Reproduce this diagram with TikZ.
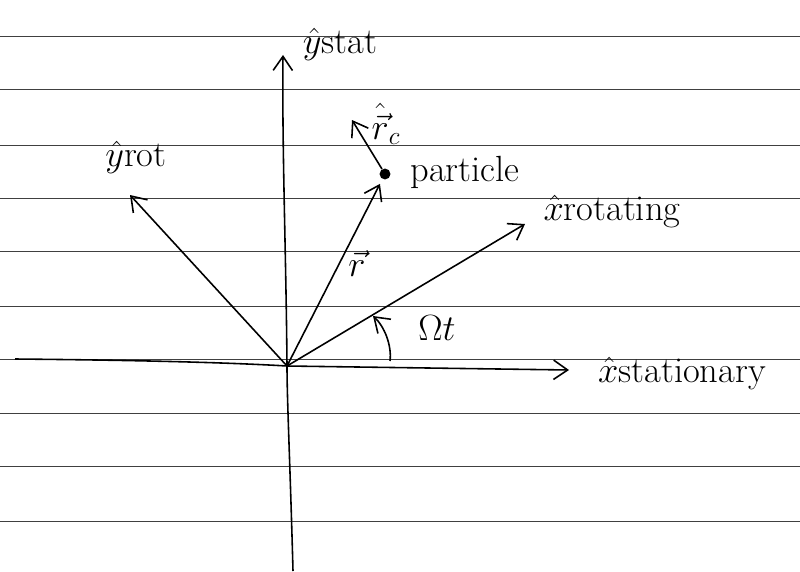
\documentclass[tikz,border=0pt]{standalone}
\usetikzlibrary{arrows.meta}
\begin{document}
\begin{tikzpicture}[x=0.02cm,y=-0.02cm,
  pen/.style={line width=0.9pt},
  vec/.style={pen,-{Straight Barb[length=8pt,width=11pt]}},
  lbl/.style={font=\huge,inner sep=1pt}]
\useasboundingbox (0,0) rectangle (800,571);

% -----------------------------
% Ruled paper
% -----------------------------
\foreach \y in {36,89,145,198,251,306,359,413,466,521} {
    \draw[black!75,line width=0.5pt] (0,\y) -- (800,\y);
}

% -----------------------------
% Points
% -----------------------------
\coordinate (O) at (287,366);       % origin
\coordinate (xl) at (15,359);       % left end of x axis
\coordinate (xs) at (569,370);      % x stationary tip
\coordinate (ys) at (283,55);       % y stationary tip
\coordinate (yb) at (293,571);      % bottom of y axis
\coordinate (yr) at (130,195);      % y rotating tip
\coordinate (xr) at (525,224);      % x rotating tip
\coordinate (rc) at (352,120);      % r_c tip
\coordinate (a1) at (390,361);      % angle arc start
\coordinate (a2) at (373,316);      % angle arc end
\node[circle,fill,inner sep=2.2pt] (p) at (385,174) {};

% -----------------------------
% Axes
% -----------------------------
\draw[vec] (xl) .. controls (120,360) and (220,362) .. (O) -- (xs);
\draw[vec] (yb) .. controls (290,460) and (287,400) .. (O)
    .. controls (286,250) and (282,150) .. (ys);

% -----------------------------
% Vectors
% -----------------------------
\draw[vec] (O) -- (yr);
\draw[vec] (O) -- (xr);
\draw[vec,shorten >=3pt] (O) -- (p);
\draw[vec] (p) -- (rc);
\draw[vec] (a1) .. controls (392,345) and (384,326) .. (a2);

% -----------------------------
% Labels
% -----------------------------
\node[lbl] (lys) at (340,44) {$\hat{y}$stat};
\node[lbl] (lyr) at (136,157) {$\hat{y}$rot};
\node[lbl] (lrv) at (357,264) {$\vec{r}$};
\node[lbl] (lrc) at (386,124) {$\hat{\vec{r}}_c$};
\node[lbl] (lp) at (465,172) {particle};
\node[lbl] (lxr) at (612,212) {$\hat{x}$rotating};
\node[lbl] (lom) at (437,328) {$\Omega t$};
\node[lbl] (lxs) at (682,374) {$\hat{x}$stationary};

\end{tikzpicture}
\end{document}
